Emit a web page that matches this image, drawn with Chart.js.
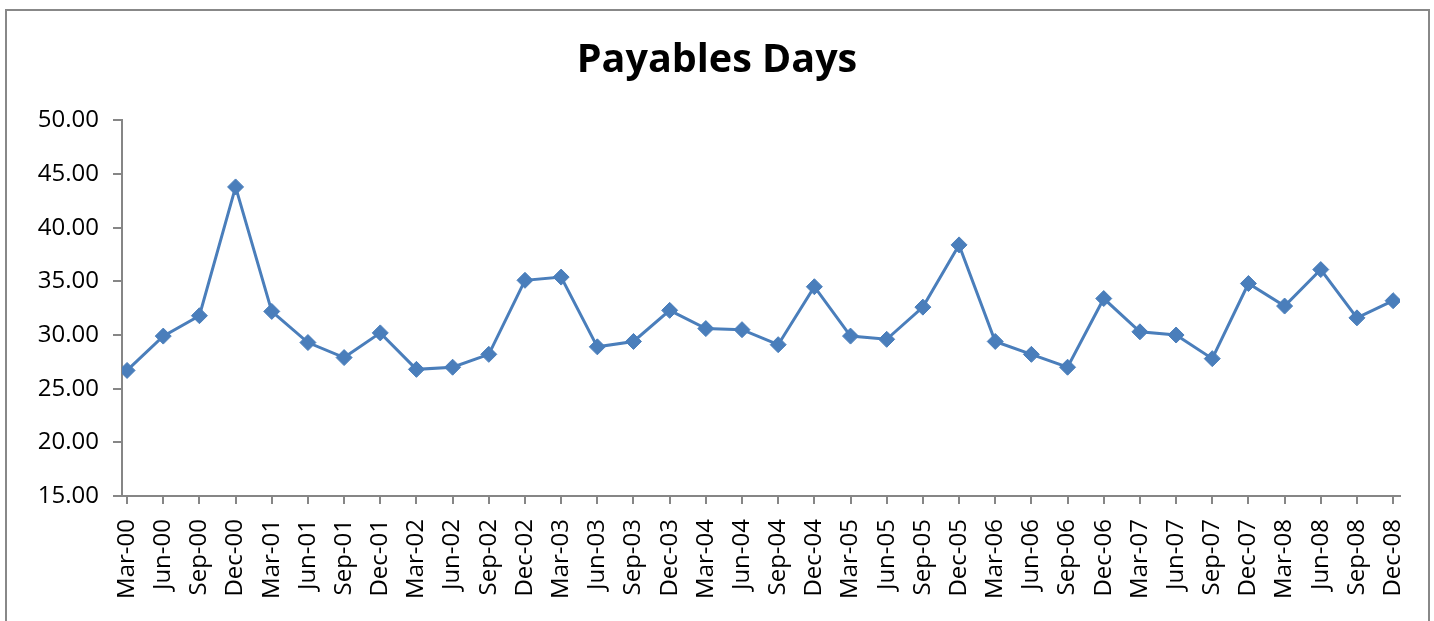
<html>
	<head>
		<title>Payables Days</title>
<style type="text/css">
body {
	margin: 0;
	background: #fff;
}
#frame {
	position: absolute;
	left: 5px;
	top: 9px;
	width: 1421px;
	height: 700px;
	border: 2px solid #888888;
	pointer-events: none;
}
#wrap {
	position: absolute;
	left: 0;
	top: 0;
}
</style>
<script src="https://cdn.jsdelivr.net/npm/chart.js"></script>
<script>
// quarters, Mar-00 .. Dec-08
const quarters = [
	'Mar-00', 'Jun-00', 'Sep-00', 'Dec-00',
	'Mar-01', 'Jun-01', 'Sep-01', 'Dec-01',
	'Mar-02', 'Jun-02', 'Sep-02', 'Dec-02',
	'Mar-03', 'Jun-03', 'Sep-03', 'Dec-03',
	'Mar-04', 'Jun-04', 'Sep-04', 'Dec-04',
	'Mar-05', 'Jun-05', 'Sep-05', 'Dec-05',
	'Mar-06', 'Jun-06', 'Sep-06', 'Dec-06',
	'Mar-07', 'Jun-07', 'Sep-07', 'Dec-07',
	'Mar-08', 'Jun-08', 'Sep-08', 'Dec-08'
];

const payablesDays = [
	26.7, 29.9, 31.8, 43.8,
	32.2, 29.3, 27.9, 30.2,
	26.8, 27.0, 28.2, 35.1,
	35.4, 28.9, 29.4, 32.3,
	30.6, 30.5, 29.1, 34.5,
	29.9, 29.6, 32.6, 38.4,
	29.4, 28.2, 27.0, 33.4,
	30.3, 30.0, 27.8, 34.8,
	32.7, 36.1, 31.6, 33.2
];

const yTicks = [15, 20, 25, 30, 35, 40, 45, 50];

function load()
{
	const axisGrey = '#868686';
	const blue = '#4a7ebb';
	const pts = payablesDays.map((v, i) => ({ x: i, y: v }));

	new Chart(document.getElementById('myChart'), {
		type: 'line',
		data: {
			datasets: [{
				label: 'Payables Days',
				data: pts,
				borderColor: blue,
				backgroundColor: blue,
				borderWidth: 3,
				pointStyle: 'rectRot',
				pointRadius: 8,
				pointBorderWidth: 1,
				tension: 0
			}]
		},
		options: {
			responsive: false,
			animation: false,
			devicePixelRatio: 1,
			layout: {
				padding: { left: 34, right: 34, top: 0, bottom: 0 }
			},
			plugins: {
				legend: { display: false },
				tooltip: { enabled: false },
				title: {
					display: true,
					text: 'Payables Days',
					color: '#000',
					font: { family: 'Open Sans', size: 39.5, weight: 'bold', lineHeight: 1.2 },
					padding: { top: 37, bottom: 36 }
				}
			},
			scales: {
				x: {
					type: 'linear',
					min: -0.14,
					max: 35.19,
					afterFit: (s) => {
						s.height = 125;
						s.paddingLeft = 0;
						s.paddingRight = 0;
					},
					grid: {
						drawOnChartArea: false,
						drawTicks: true,
						tickLength: 8,
						color: axisGrey,
						lineWidth: 2
					},
					border: { display: true, color: axisGrey, width: 2 },
					ticks: {
						stepSize: 1,
						includeBounds: false,
						autoSkip: false,
						maxRotation: 90,
						minRotation: 90,
						padding: 15,
						color: '#000',
						font: { family: 'Open Sans', size: 24 },
						callback: (v) => quarters[v]
					}
				},
				y: {
					min: 15,
					max: 50,
					afterFit: (s) => { s.width = 88; },
					afterBuildTicks: (s) => { s.ticks = yTicks.map(v => ({ value: v })); },
					grid: {
						drawOnChartArea: false,
						drawTicks: true,
						tickLength: 9,
						color: axisGrey,
						lineWidth: 2
					},
					border: { display: true, color: axisGrey, width: 2 },
					ticks: {
						padding: 14,
						color: '#000',
						font: { family: 'Open Sans', size: 24 },
						callback: (v) => v.toFixed(2)
					}
				}
			}
		}
	});
}
</script>
</head>
<body onload='load();'>
<div id='wrap'><canvas id="myChart" width="1434" height="621"></canvas></div>
<div id='frame'></div>
</body>
</html>
